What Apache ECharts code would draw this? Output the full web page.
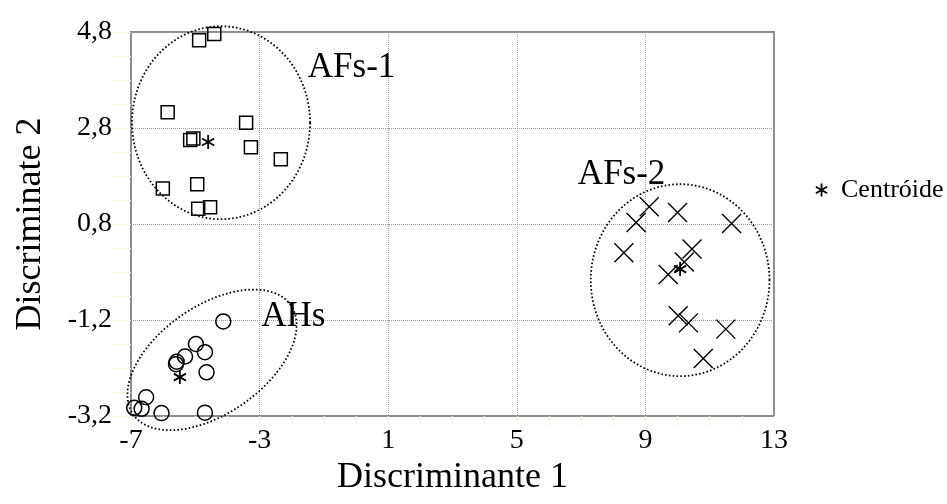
<!DOCTYPE html>
<html>
<head>
<meta charset="utf-8">
<script src="https://cdn.jsdelivr.net/npm/echarts@6/dist/echarts.min.js"></script>
<style>
html,body{margin:0;padding:0;background:#fff;}
#chart{width:947px;height:504px;}
</style>
</head>
<body>
<div id="chart"></div>
<script>
// ---- Data ----
var afs1X = [-4.88, -4.41, -5.86, -3.42, -5.16, -5.06, -3.27, -2.34, -4.94, -6.01, -4.91, -4.54];
var afs1Y = [4.63, 4.76, 3.13, 2.91, 2.55, 2.58, 2.40, 2.15, 1.63, 1.54, 1.12, 1.15];
var ahsX = [-4.13, -4.98, -4.70, -5.32, -5.58, -5.60, -4.65, -6.53, -6.90, -6.67, -6.05, -4.70];
var ahsY = [-1.23, -1.70, -1.87, -1.96, -2.07, -2.12, -2.29, -2.81, -3.03, -3.05, -3.14, -3.13];
var afs2X = [9.12, 8.71, 10.00, 11.68, 8.33, 10.45, 10.21, 9.71, 10.02, 10.34, 11.50, 10.80];
var afs2Y = [1.16, 0.83, 1.04, 0.81, 0.20, 0.28, 0.01, -0.25, -1.11, -1.26, -1.39, -2.00];
var centroidX = [-4.60, -5.48, 10.08];
var centroidY = [2.51, -2.39, -0.14];

// group ellipses: centre and two conjugate semi-axis vectors (data units)
var ellipseCX = [-4.20, -4.48, 10.08];
var ellipseCY = [2.91, -2.03, -0.37];
var ellipseAX = [2.77, 2.45, 2.78];
var ellipseAY = [0.00, 1.14, 0.00];
var ellipseBX = [0.00, -0.96, 0.00];
var ellipseBY = [2.01, 0.92, 2.00];

var groupNames = ['AFs-1', 'AFs-2', 'AHs'];
var groupLabelX = [-0.14, 8.26, -1.95];
var groupLabelY = [4.05, 1.82, -1.13];

var xTicks = [-7, -3, 1, 5, 9, 13];
var yTicks = [-3.2, -1.2, 0.8, 2.8, 4.8];
var xTitle = 'Discriminante 1';
var yTitle = 'Discriminate 2';
var legendName = 'Centróide';

// ---- helpers ----
function zip(xs, ys) { return xs.map(function (x, i) { return [x, ys[i]]; }); }
var serif = '"Liberation Serif","Times New Roman",serif';
var starPath = 'path://M10,0 L10,20 M1.34,5 L18.66,15 M1.34,15 L18.66,5';
var crossPath = 'path://M0,0 L20,20 M0,20 L20,0';
var hollow = { color: 'rgba(0,0,0,0)', borderColor: '#000', borderWidth: 1.5, opacity: 1 };
var tickColor = '#faf6dc';

var ellipseData = ellipseCX.map(function (c, i) {
  return [c, ellipseCY[i], ellipseAX[i], ellipseAY[i], ellipseBX[i], ellipseBY[i]];
});

var chart = echarts.init(document.getElementById('chart'));
chart.setOption({
  animation: false,
  backgroundColor: '#fff',
  grid: { left: 131, right: 173, top: 32, bottom: 88, show: true, borderColor: '#8c8c8c', borderWidth: 2, backgroundColor: 'rgba(0,0,0,0)' },
  xAxis: {
    type: 'value', min: xTicks[0], max: xTicks[xTicks.length - 1], interval: 4,
    name: xTitle, nameLocation: 'middle', nameGap: 31,
    nameTextStyle: { fontFamily: serif, fontSize: 36, color: '#000' },
    axisLine: { show: true, onZero: false, lineStyle: { color: '#8c8c8c', width: 2 } },
    axisTick: { show: true, length: 10, lineStyle: { color: tickColor } },
    minorTick: { show: true, splitNumber: 4, length: 10, lineStyle: { color: tickColor } },
    axisLabel: { fontFamily: serif, fontSize: 28, color: '#000', margin: 11 },
    splitLine: { show: true, lineStyle: { color: '#9a9a9a', type: [1, 1], width: 1 } }
  },
  yAxis: {
    type: 'value', min: yTicks[0], max: yTicks[yTicks.length - 1], interval: 2,
    name: yTitle, nameLocation: 'middle', nameGap: 82,
    nameTextStyle: { fontFamily: serif, fontSize: 36, color: '#000' },
    axisLine: { show: true, onZero: false, lineStyle: { color: '#8c8c8c', width: 2 } },
    axisTick: { show: true, length: 18, lineStyle: { color: tickColor } },
    minorTick: { show: true, splitNumber: 4, length: 18, lineStyle: { color: tickColor } },
    axisLabel: {
      fontFamily: serif, fontSize: 28, color: '#000', margin: 19,
      formatter: function (v) { return v.toFixed(1).replace('.', ','); }
    },
    splitLine: { show: true, lineStyle: { color: '#9a9a9a', type: [1, 1], width: 1 } }
  },
  legend: {
    data: [{ name: legendName, icon: starPath }],
    left: 810, top: 172, orient: 'vertical',
    itemWidth: 13, itemHeight: 13,
    itemStyle: { color: 'rgba(0,0,0,0)', borderColor: '#000', borderWidth: 1.8, opacity: 1 },
    textStyle: { fontFamily: serif, fontSize: 26, color: '#000', padding: [0, 0, 0, 8] }
  },
  series: [
    {
      name: 'ellipses', type: 'custom', silent: true, clip: false, z: 1,
      data: ellipseData,
      renderItem: function (params, api) {
        var cx = api.value(0), cy = api.value(1), ax = api.value(2), ay = api.value(3), bx = api.value(4), by = api.value(5);
        var pts = [];
        var n = 120;
        for (var k = 0; k <= n; k++) {
          var t = k / n * Math.PI * 2;
          pts.push(api.coord([cx + ax * Math.cos(t) + bx * Math.sin(t), cy + ay * Math.cos(t) + by * Math.sin(t)]));
        }
        return { type: 'polyline', shape: { points: pts }, style: { fill: null, stroke: '#000', lineWidth: 1.8, lineDash: [1.6, 2.2] } };
      }
    },
    { name: 'AFs-1', type: 'scatter', symbol: 'rect', symbolSize: 13, itemStyle: hollow, data: zip(afs1X, afs1Y), z: 3 },
    { name: 'AHs', type: 'scatter', symbol: 'circle', symbolSize: 15, itemStyle: hollow, data: zip(ahsX, ahsY), z: 3 },
    { name: 'AFs-2', type: 'scatter', symbol: crossPath, symbolSize: 19, itemStyle: { color: 'rgba(0,0,0,0)', borderColor: '#000', borderWidth: 1.4, opacity: 1 }, data: zip(afs2X, afs2Y), z: 3 },
    { name: legendName, type: 'scatter', symbol: starPath, symbolKeepAspect: true, symbolSize: 14, itemStyle: { color: 'rgba(0,0,0,0)', borderColor: '#000', borderWidth: 1.8, opacity: 1 }, data: zip(centroidX, centroidY), z: 4 },
    {
      name: 'labels', type: 'scatter', symbolSize: 0, silent: true, z: 5,
      itemStyle: { color: '#000', opacity: 1 },
      data: groupNames.map(function (n, i) { return { name: n, value: [groupLabelX[i], groupLabelY[i]] }; }),
      label: { show: true, position: 'inside', formatter: '{b}', fontFamily: serif, fontSize: 35, color: '#000', textBorderWidth: 0 }
    }
  ]
});
</script>
</body>
</html>
